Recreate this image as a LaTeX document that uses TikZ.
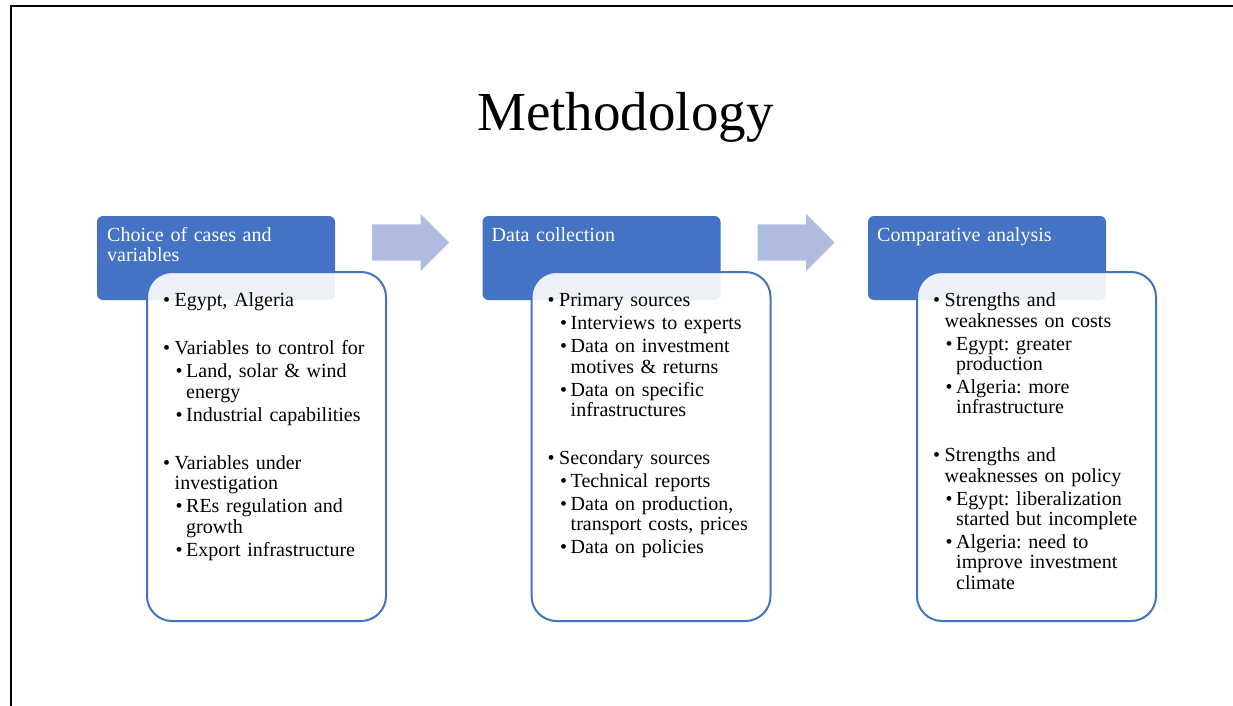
\documentclass[tikz,border=0pt]{standalone}
\usepackage{fontspec}
\setmainfont{Liberation Serif}
\usetikzlibrary{positioning,shapes.arrows}
\definecolor{Accent}{HTML}{4472C4}
\definecolor{Haze}{HTML}{B0BCDF}
\newcommand\stagefont{\fontsize{20}{20.3}\selectfont\frenchspacing}
% bullet levels inside the white panels
\newcommand\itemone[1]{\par\leftskip=0pt\hangindent=11.5pt\hangafter=1
  \noindent\makebox[11.5pt][l]{\textbullet}#1}
\newcommand\itemtwo[1]{\par\leftskip=12.5pt\hangindent=10.5pt\hangafter=1
  \noindent\makebox[10.5pt][l]{\textbullet}#1}
\newcommand\itemgap{\par\vspace{25.2pt}}
\tikzset{
  stage head/.style={fill=Accent,rounded corners=6pt,minimum width=238pt,
    minimum height=84pt,inner sep=0pt,outer sep=0pt},
  stage body/.style={draw=Accent,line width=2pt,fill=white,fill opacity=.9,
    rounded corners=25pt,minimum width=239pt,minimum height=349pt,
    inner sep=0pt,anchor=north west},
  head text/.style={anchor=north west,inner sep=0pt,text width=225pt,
    align=left,font=\stagefont,text=white},
  body text/.style={anchor=north west,inner sep=0pt,text width=220pt,
    align=left,font=\stagefont,
    execute at begin node={\setlength{\parskip}{2.7pt}}},
  stage arrow/.style={single arrow,fill=Haze,anchor=tail,minimum height=77pt,
    minimum width=57pt,inner xsep=0pt,inner ysep=18pt,
    single arrow head extend=10.5pt,single arrow head indent=0pt}
}

\begin{document}
\begin{tikzpicture}[x=1pt,y=-1pt]
  \useasboundingbox (0,0) rectangle (1233,706);
  \draw[line width=2pt] (1233,6) -- (10.5,6) -- (10.5,706);
  \node[anchor=base,inner sep=0pt,font=\fontsize{55}{60}\selectfont] (title)
    at (625.5,131) {Methodology};
  % blue headers and the arrows between them
  \node[stage head,anchor=north west] (choice) at (97,216) {};
  \node[stage head,right=147.5pt of choice] (collect) {};
  \node[stage head,right=147.5pt of collect] (compare) {};
  \node[stage arrow] (arrow1) at ([xshift=37pt,yshift=15.5pt]choice.east) {};
  \node[stage arrow] (arrow2) at ([xshift=37pt,yshift=15.5pt]collect.east) {};
  \node[head text] (choice title) at ([xshift=10pt,yshift=-11pt]choice.north west)
    {Choice of cases and\\variables};
  \node[head text] (collect title) at ([xshift=9pt,yshift=-11pt]collect.north west)
    {Data collection};
  \node[head text] (compare title) at ([xshift=9pt,yshift=-11pt]compare.north west)
    {Comparative analysis};
  % white panels with the bullet lists
  \node[stage body] (choice body) at ([xshift=49pt,yshift=-55pt]choice.north west) {};
  \node[stage body] (collect body) at ([xshift=48pt,yshift=-55pt]collect.north west) {};
  \node[stage body] (compare body) at ([xshift=48pt,yshift=-55pt]compare.north west) {};
  \node[body text] (choice list) at ([xshift=17pt,yshift=-12.5pt]choice body.north west) {%
    \itemone{Egypt, Algeria}
    \itemgap
    \itemone{Variables to control for}
    \itemtwo{Land, solar \& wind\newline energy}
    \itemtwo{Industrial capabilities}
    \itemgap
    \itemone{Variables under\newline investigation}
    \itemtwo{REs regulation and\newline growth}
    \itemtwo{Export infrastructure}\par};
  \node[body text] (collect list) at ([xshift=17pt,yshift=-12.5pt]collect body.north west) {%
    \itemone{Primary sources}
    \itemtwo{Interviews to experts}
    \itemtwo{Data on investment\newline motives \& returns}
    \itemtwo{Data on specific\newline infrastructures}
    \itemgap
    \itemone{Secondary sources}
    \itemtwo{Technical reports}
    \itemtwo{Data on production,\newline transport costs, prices}
    \itemtwo{Data on policies}\par};
  \node[body text] (compare list) at ([xshift=17pt,yshift=-12.5pt]compare body.north west) {%
    \itemone{Strengths and\newline weaknesses on costs}
    \itemtwo{Egypt: greater\newline production}
    \itemtwo{Algeria: more\newline infrastructure}
    \itemgap
    \itemone{Strengths and\newline weaknesses on policy}
    \itemtwo{Egypt: liberalization\newline started but incomplete}
    \itemtwo{Algeria: need to\newline improve investment\newline climate}\par};
\end{tikzpicture}
\end{document}
